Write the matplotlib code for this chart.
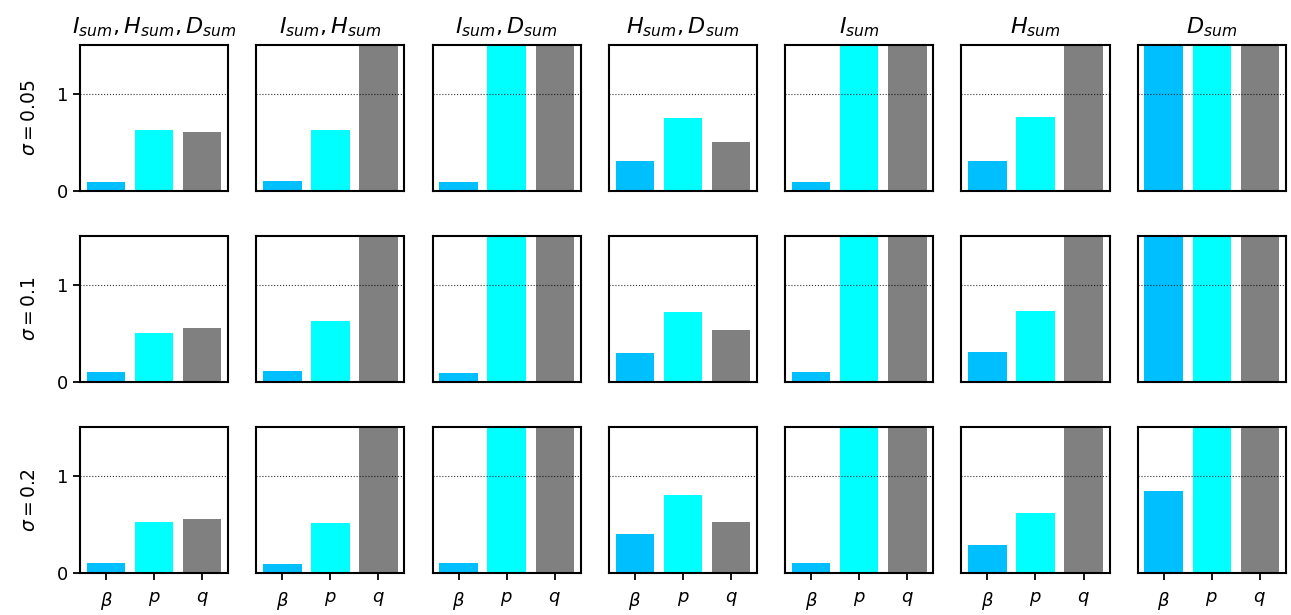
import numpy as np
import matplotlib.pyplot as plt

# values per panel: rows = sigma, cols = feature sets; bars beyond 1.5 are clipped
sigmas = ['0.05', '0.1', '0.2']
titles = ['$I_{sum}, H_{sum}, D_{sum}$', '$I_{sum}, H_{sum}$', '$I_{sum}, D_{sum}$',
          '$H_{sum}, D_{sum}$', '$I_{sum}$', '$H_{sum}$', '$D_{sum}$']
labels = [r'$\beta$', '$p$', '$q$']
colors = ['deepskyblue', 'cyan', 'gray']

beta = [[0.09, 0.10, 0.09, 0.31, 0.09, 0.31, 2.0],
        [0.10, 0.11, 0.09, 0.30, 0.10, 0.31, 2.0],
        [0.10, 0.09, 0.10, 0.40, 0.10, 0.29, 0.84]]
p_vals = [[0.63, 0.63, 2.0, 0.75, 2.0, 0.76, 2.0],
          [0.50, 0.63, 2.0, 0.72, 2.0, 0.73, 2.0],
          [0.53, 0.52, 2.0, 0.80, 2.0, 0.62, 2.0]]
q_vals = [[0.60, 2.0, 2.0, 0.50, 2.0, 2.0, 2.0],
          [0.56, 2.0, 2.0, 0.53, 2.0, 2.0, 2.0],
          [0.56, 2.0, 2.0, 0.53, 2.0, 2.0, 2.0]]

fig, axes = plt.subplots(3, 7, figsize=(12.91, 6.15), dpi=100)
fig.subplots_adjust(left=0.062, right=0.996, top=0.927, bottom=0.068,
                    wspace=0.19, hspace=0.31)

x = np.arange(3)
for i in range(3):
    for j in range(7):
        ax = axes[i, j]
        vals = [beta[i][j], p_vals[i][j], q_vals[i][j]]
        ax.bar(x, vals, width=0.8, color=colors)
        ax.axhline(1, color='k', ls=':', lw=0.8, alpha=0.8)
        ax.set_ylim(0, 1.5)
        ax.set_yticks([0, 1])
        ax.set_xticks(x)
        ax.tick_params(labelsize=13, width=1.3, length=5)
        ax.tick_params(axis='x', pad=7)
        for s in ax.spines.values():
            s.set_linewidth(1.5)
        if i == 2:
            ax.set_xticklabels(labels)
        else:
            ax.set_xticks([])
        if j == 0:
            ax.set_ylabel(r'$\sigma = %s$' % sigmas[i], fontsize=13.5, labelpad=13)
        else:
            ax.set_yticks([])
        if i == 0:
            ax.set_title(titles[j], fontsize=16, pad=8)

plt.savefig('out.png')
